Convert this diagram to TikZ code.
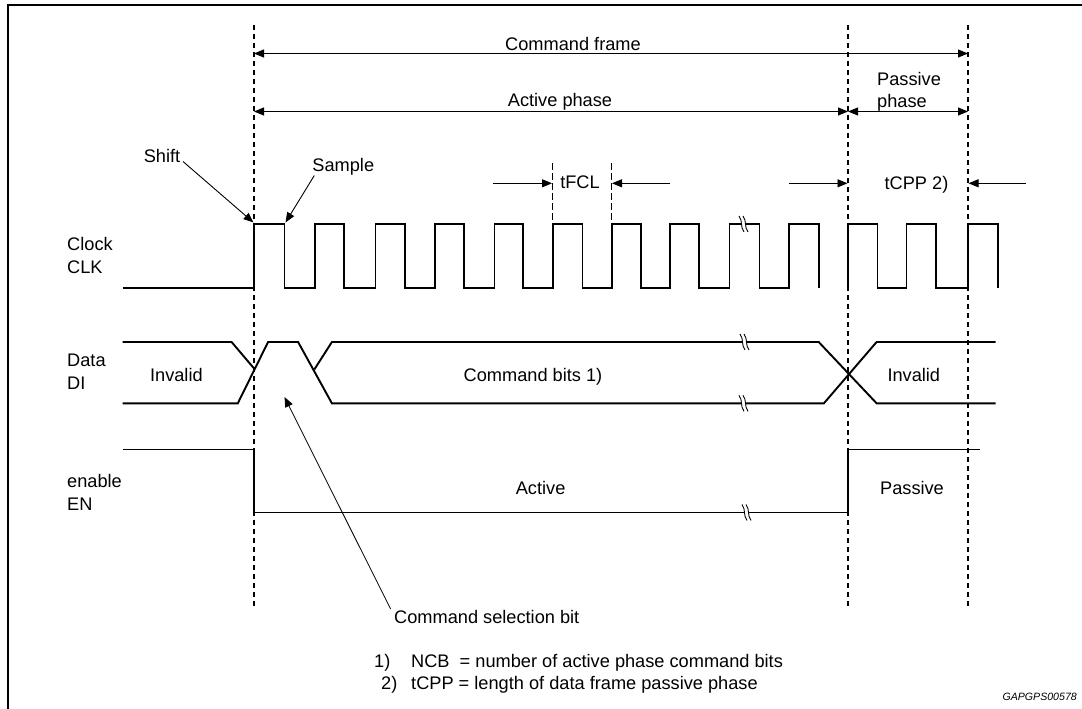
\documentclass[tikz,border=0pt]{standalone}
\usepackage{fontspec}
\setmainfont{Liberation Sans}
\usetikzlibrary{arrows.meta}
\begin{document}
\begin{tikzpicture}[x=1pt,y=-1pt,
  sig/.style={line width=1.9pt,line join=miter,line cap=butt},
  dim/.style={line width=0.9pt},
  ahead/.style={-{Triangle[length=10pt,width=8pt]}},
  bhead/.style={{Triangle[length=10pt,width=8pt]}-{Triangle[length=10pt,width=8pt]}},
  guide/.style={line width=1.1pt,dash pattern=on 5pt off 4pt},
  tguide/.style={line width=1.6pt,dash pattern=on 7pt off 3pt},
  txt/.style={font=\fontsize{18.2}{21}\selectfont,inner sep=0pt},
  smalltxt/.style={font=\fontsize{10.6}{12}\selectfont\itshape,inner sep=0pt},
  brk/.pic={
    \fill[white] (-2.6,-1.6) rectangle (1.6,1.6);
    \draw[line width=0.9pt] (-5,-8) .. controls (-1,-3) and (-4,3) .. (0,8);
    \draw[line width=0.9pt] (-1,-8) .. controls (3,-3) and (0,3) .. (4,8);
  }
]
\useasboundingbox (0,0) rectangle (1082,709);
\fill[white] (0,0) rectangle (1082,709);

% frame
\draw[line width=2pt] (7.5,709) -- (7.5,5.5) -- (1082,5.5);

% guide lines
\coordinate (g1t) at (254,25);  \coordinate (g1b) at (254,609);
\coordinate (g2t) at (848,25);  \coordinate (g2b) at (848,609);
\coordinate (g3t) at (968,25);  \coordinate (g3b) at (968,609);
\draw[guide] (g1t) -- (g1b);
\draw[guide] (g2t) -- (g2b);
\draw[guide] (g3t) -- (g3b);

% command frame / phases
\coordinate (cfL) at (254,53.5); \coordinate (cfR) at (968,53.5);
\draw[dim,bhead] (cfL) -- (cfR);
\node[txt,anchor=base] (cftext) at (573,50.5) {Command frame};

\coordinate (apL) at (254,111.5); \coordinate (apR) at (848,111.5);
\coordinate (ppL) at (848,111.5); \coordinate (ppR) at (968,111.5);
\draw[dim,bhead] (apL) -- (apR);
\draw[dim,bhead] (ppL) -- (ppR);
\node[txt,anchor=base] (aptext) at (560,106.7) {Active phase};
\node[txt,anchor=base west] (pp1) at (877,85) {Passive};
\node[txt,anchor=base west] (pp2) at (877,107.3) {phase};

% tFCL
\coordinate (f1t) at (552.5,163); \coordinate (f1b) at (552.5,224);
\coordinate (f2t) at (611.5,163); \coordinate (f2b) at (611.5,224);
\draw[tguide] (f1t) -- (f1b);
\draw[tguide] (f2t) -- (f2b);
\coordinate (fa1) at (493,183.3); \coordinate (fm1) at (552,183.3);
\coordinate (fa2) at (670,183.3); \coordinate (fm2) at (612,183.3);
\draw[dim,ahead] (fa1) -- (fm1);
\draw[dim,ahead] (fa2) -- (fm2);
\node[txt,anchor=base] (tfcl) at (580,188.5) {tFCL};

% tCPP
\coordinate (ca1) at (789,183.3); \coordinate (cm1) at (847.5,183.3);
\coordinate (ca2) at (1026,183.3); \coordinate (cm2) at (968.5,183.3);
\draw[dim,ahead] (ca1) -- (cm1);
\draw[dim,ahead] (ca2) -- (cm2);
\node[txt,anchor=base] (tcpp) at (916.5,189.5) {tCPP 2)};

% Shift / Sample
\node[txt,anchor=base] (shift) at (162,162.6) {Shift};
\node[txt,anchor=base] (sample) at (343.3,171.8) {Sample};
\coordinate (shA) at (183,161.5); \coordinate (shB) at (253.5,222.5);
\coordinate (saA) at (314.3,175.5); \coordinate (saB) at (285.5,222.5);
\draw[dim,ahead] (shA) -- (shB);
\draw[dim,ahead] (saA) -- (saB);

% signal labels
\node[txt,anchor=base west] (clk1) at (67,250.5) {Clock};
\node[txt,anchor=base west] (clk2) at (67,273) {CLK};
\node[txt,anchor=base west] (di1) at (67,366.7) {Data};
\node[txt,anchor=base west] (di2) at (67,389.6) {DI};
\node[txt,anchor=base west] (en1) at (67,487.3) {enable};
\node[txt,anchor=base west] (en2) at (67,510.2) {EN};

% clock
\draw[sig] (122.5,288)
  foreach \r/\f in {254/284.5,315/344,375.5/405,435/464,494.5/523,553/582.5,612/641,670/699,729.5/759.5,789/818.7}
  { -- (\r,288) -- (\r,224) -- (\f,224) -- (\f,288) };
\draw[sig] (848,288) -- (848,224) -- (877.5,224) -- (877.5,288) -- (906.5,288) -- (906.5,224)
  -- (936,224) -- (936,288) -- (968,288) -- (968,224) -- (998,224) -- (998,288);
\pic at (744,224) {brk};

% data
\draw[sig] (122.5,342) -- (231.6,342) -- (254,368.4);
\draw[sig] (122.5,403.3) -- (237.8,403.3) -- (268.1,342) -- (298.1,342) -- (331.9,403.3)
  -- (823.9,403.3) -- (876.6,342) -- (995.6,342);
\draw[sig] (314.3,369.5) -- (331.9,342) -- (818.7,342) -- (876.6,403.3) -- (995.6,403.3);
\pic at (745,342) {brk};
\pic at (744,403.3) {brk};
\node[txt,anchor=base] (inv1) at (176.4,381.2) {Invalid};
\node[txt,anchor=base] (cmdbits) at (533,381.2) {Command bits 1)};
\node[txt,anchor=base] (inv2) at (913.8,381.2) {Invalid};

% enable
\draw[sig] (122.5,449.5) -- (254,449.5) -- (254,512.5) -- (848,512.5) -- (848,449.5) -- (980,449.5);
\pic at (747,512.5) {brk};
\node[txt,anchor=base] (act) at (540.6,494) {Active};
\node[txt,anchor=base] (pas) at (912,494) {Passive};

% command selection bit
\node[txt,anchor=base west] (csb) at (394,623) {Command selection bit};
\coordinate (csA) at (390.6,609); \coordinate (csB) at (284.5,397);
\draw[line width=0.8pt,ahead] (csA) -- (csB);

% footnotes
\node[txt,anchor=base west] (fn1n) at (374,667) {1)};
\node[txt,anchor=base west] (fn1) at (411,667) {NCB\ \ = number of active phase command bits};
\node[txt,anchor=base west] (fn2n) at (381,689.5) {2)};
\node[txt,anchor=base west] (fn2) at (411,689.5) {tCPP = length of data frame passive phase};

\node[smalltxt,anchor=base east] (code) at (1077,700) {GAPGPS00578};
\end{tikzpicture}
\end{document}
